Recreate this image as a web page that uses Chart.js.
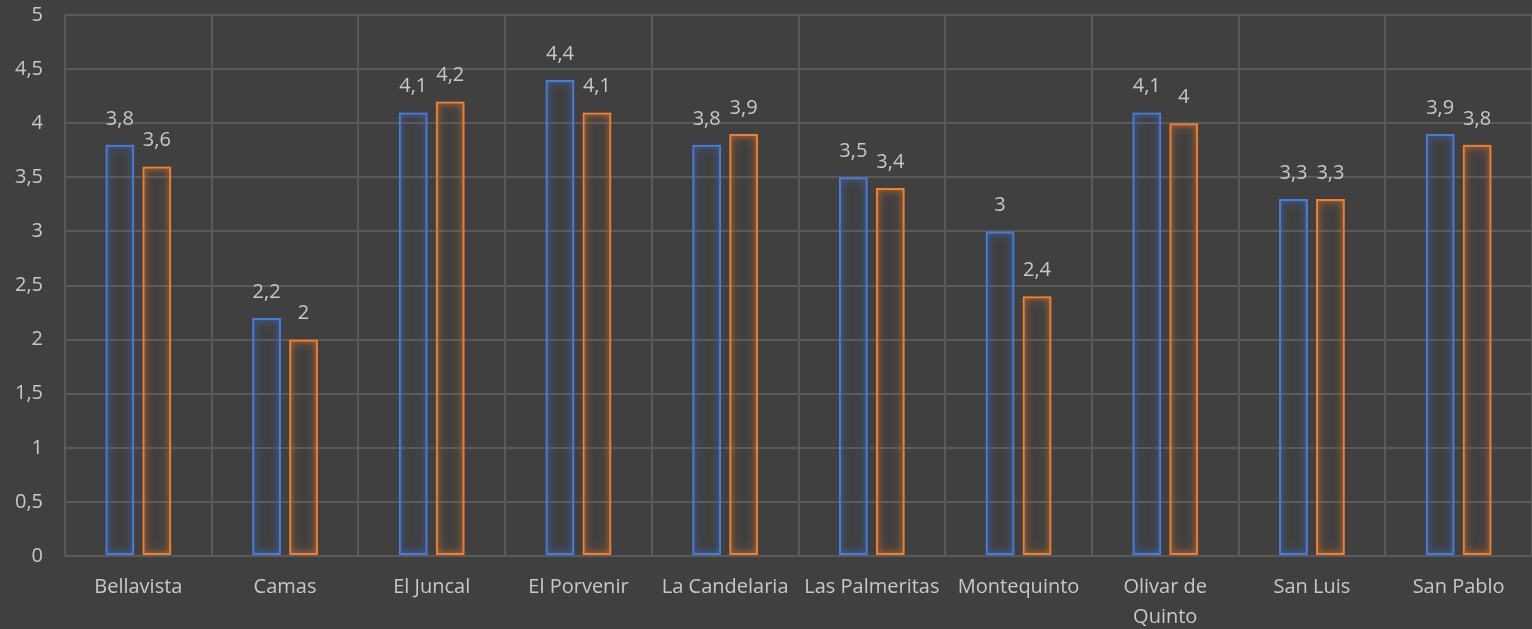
<!DOCTYPE html>
<html>
<head>
<meta charset="utf-8">
<script src="https://cdn.jsdelivr.net/npm/chart.js@4/dist/chart.umd.min.js"></script>
<style>
  html, body { margin: 0; padding: 0; background: #404040; }
  #wrap { width: 1532px; height: 629px; }
</style>
</head>
<body>
<div id="wrap"><canvas id="chart"></canvas></div>
<script>
// Categories (barrios)
const categories = ['Bellavista', 'Camas', 'El Juncal', 'El Porvenir', 'La Candelaria',
    'Las Palmeritas', 'Montequinto', ['Olivar de', 'Quinto'], 'San Luis', 'San Pablo'];
// Series values
const seriesBlue = [3.8, 2.2, 4.1, 4.4, 3.8, 3.5, 3.0, 4.1, 3.3, 3.9];
const seriesOrange = [3.6, 2.0, 4.2, 4.1, 3.9, 3.4, 2.4, 4.0, 3.3, 3.8];
// Y tick settings
const yMin = 0;
const yMax = 5;
const yStep = 0.5;

const fmt = v => String(v).replace('.', ',');

// Glow around each outlined bar
const glowPlugin = {
    id: 'glow',
    beforeDatasetDraw(chart, args) {
        const c = chart.data.datasets[args.index].glowColor;
        chart.ctx.save();
        chart.ctx.filter = `drop-shadow(0 0 2px ${c}) drop-shadow(0 0 4px ${c})`;
    },
    afterDatasetDraw(chart) {
        chart.ctx.restore();
    }
};

// Value labels above bars
const valueLabels = {
    id: 'valueLabels',
    afterDatasetsDraw(chart) {
        const ctx = chart.ctx;
        ctx.save();
        ctx.font = '20px "Open Sans"';
        ctx.fillStyle = '#c8c8c8';
        ctx.textAlign = 'center';
        ctx.textBaseline = 'middle';
        chart.data.datasets.forEach((ds, i) => {
            chart.getDatasetMeta(i).data.forEach((bar, j) => {
                ctx.fillText(fmt(ds.data[j]), bar.x, bar.y - 26);
            });
        });
        ctx.restore();
    }
};

new Chart(document.getElementById('chart'), {
    type: 'bar',
    data: {
        labels: categories,
        datasets: [
            {
                label: 'Serie 1',
                data: seriesBlue,
                borderColor: '#4A7DDB',
                backgroundColor: 'rgba(0,0,0,0)',
                glowColor: 'rgba(60,105,190,0.75)',
                borderWidth: 2,
                borderSkipped: false
            },
            {
                label: 'Serie 2',
                data: seriesOrange,
                borderColor: '#F08030',
                backgroundColor: 'rgba(0,0,0,0)',
                glowColor: 'rgba(220,115,45,0.75)',
                borderWidth: 2,
                borderSkipped: false
            }
        ]
    },
    options: {
        responsive: true,
        maintainAspectRatio: false,
        animation: false,
        categoryPercentage: 0.504,
        barPercentage: 0.78,
        layout: { padding: 0 },
        plugins: {
            legend: { display: false },
            tooltip: { enabled: false }
        },
        scales: {
            x: {
                grid: { color: '#5a5a5a', lineWidth: 2, offset: true, drawTicks: false },
                border: { display: false },
                ticks: {
                    color: '#c8c8c8',
                    font: { family: 'Open Sans', size: 20, lineHeight: 1.5 },
                    padding: 16,
                    maxRotation: 0,
                    autoSkip: false
                },
                afterFit(scale) { scale.height = 73; }
            },
            y: {
                min: yMin,
                max: yMax,
                grid: { color: '#5a5a5a', lineWidth: 2, drawTicks: false },
                border: { display: false },
                ticks: {
                    stepSize: yStep,
                    color: '#c8c8c8',
                    font: { family: 'Open Sans', size: 20 },
                    padding: 22,
                    callback: v => fmt(v)
                },
                afterFit(scale) {
                    scale.width = 65;
                    scale.paddingTop = 15;
                    scale.paddingBottom = 0;
                }
            }
        }
    },
    plugins: [glowPlugin, valueLabels]
});
</script>
</body>
</html>
